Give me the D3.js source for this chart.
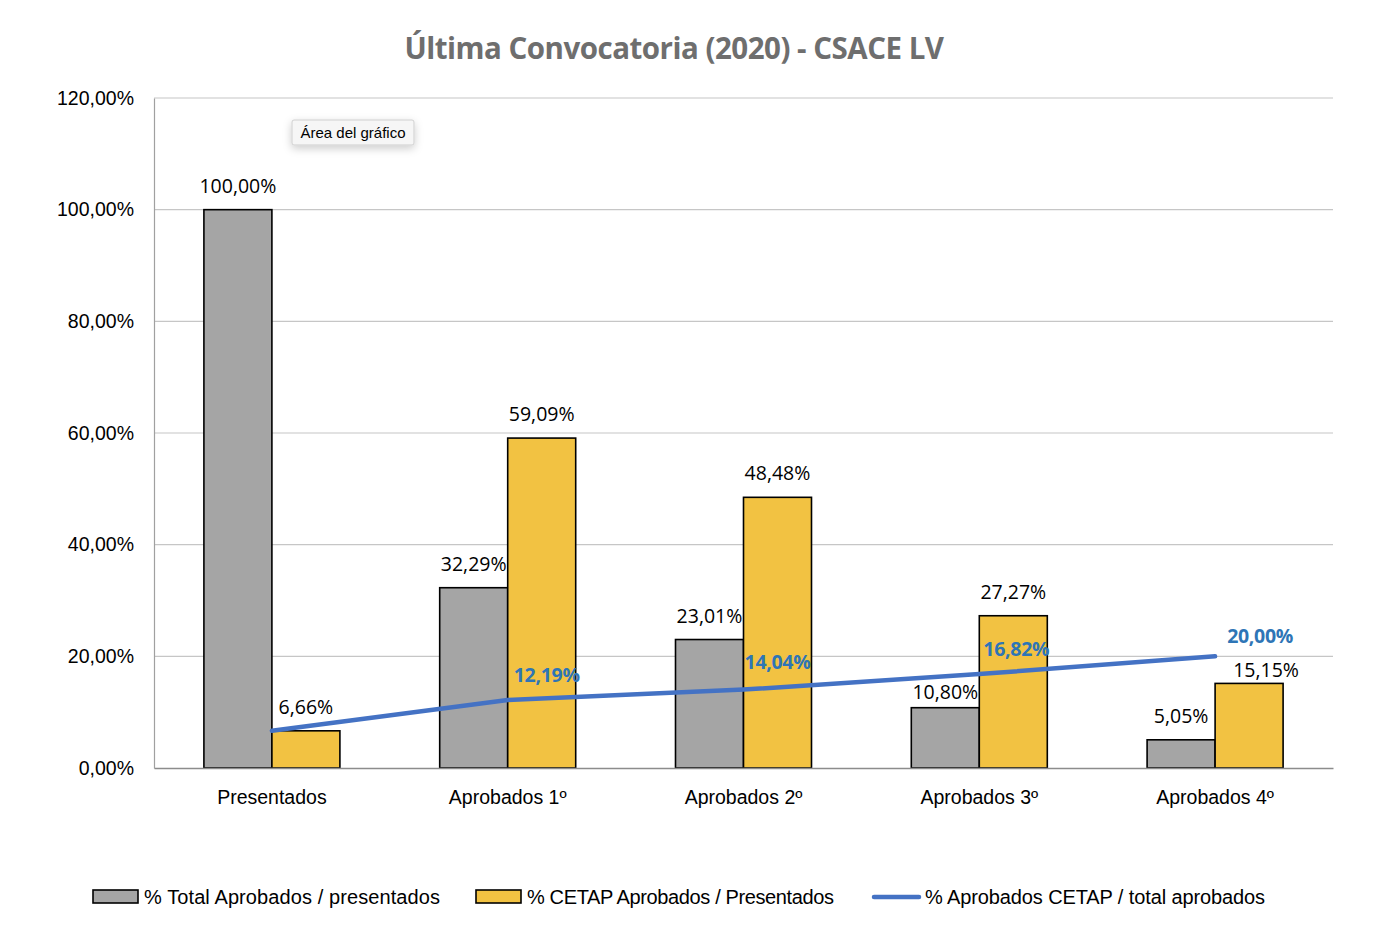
<!DOCTYPE html>
<html><head><meta charset="utf-8">
<script src="https://cdn.jsdelivr.net/npm/d3@7"></script>
<style>
body{margin:0;background:#fff;}
svg{display:block;font-family:"Open Sans","Liberation Sans",sans-serif;}
</style></head>
<body><svg id="c" width="1400" height="938"></svg>
<script>
const categories = ["Presentados","Aprobados 1º","Aprobados 2º","Aprobados 3º","Aprobados 4º"];
const totalAprobados = [100.00, 32.29, 23.01, 10.80, 5.05];
const cetapAprobados = [6.66, 59.09, 48.48, 27.27, 15.15];
const cetapShare = [6.66, 12.19, 14.04, 16.82, 20.00];
const yTicks = [0, 20, 40, 60, 80, 100, 120];
const seriesNames = ["% Total Aprobados / presentados","% CETAP Aprobados / Presentados","% Aprobados CETAP / total aprobados"];
const title = "Última Convocatoria (2020) - CSACE LV";

(function(){
const svg = d3.select("#c");
const pLeft = 154, pRight = 1333, pTop = 98, pBottom = 768;
const fmt = v => v.toFixed(2).replace(".", ",") + "%";

const x = d3.scaleBand().domain(categories).range([pLeft, pRight]);
const y = d3.scaleLinear().domain([0, 120]).range([pBottom, pTop]);
const barW = 68;

svg.append("g").selectAll("line").data(yTicks.filter(t => t > 0)).join("line")
  .attr("x1", pLeft).attr("x2", pRight)
  .attr("y1", d => y(d)).attr("y2", d => y(d))
  .attr("stroke", "#c6c6c6").attr("stroke-width", 1.2);

const yAxis = svg.append("g").attr("transform", `translate(${pLeft},0)`)
  .call(d3.axisLeft(y).tickValues(yTicks).tickFormat(fmt).tickSize(0).tickPadding(20));
yAxis.select(".domain").attr("stroke", "#a0a0a0").attr("stroke-width", 1.2);
yAxis.selectAll("text").attr("font-size", 19.5).attr("fill", "#000");

svg.append("text").attr("x", 674).attr("y", 59).attr("text-anchor", "middle")
  .attr("font-size", 29.5).attr("font-weight", "bold").attr("fill", "#6e6e6e")
  .attr("letter-spacing", -0.5)
  .text(title);

const cx = c => x(c) + x.bandwidth() / 2;
svg.append("g").selectAll("rect").data(categories).join("rect")
  .attr("x", c => cx(c) - barW).attr("width", barW)
  .attr("y", (c, i) => y(totalAprobados[i]))
  .attr("height", (c, i) => pBottom - y(totalAprobados[i]))
  .attr("fill", "#a5a5a5").attr("stroke", "#000").attr("stroke-width", 1.6);
svg.append("g").selectAll("rect").data(categories).join("rect")
  .attr("x", c => cx(c)).attr("width", barW)
  .attr("y", (c, i) => y(cetapAprobados[i]))
  .attr("height", (c, i) => pBottom - y(cetapAprobados[i]))
  .attr("fill", "#f2c242").attr("stroke", "#000").attr("stroke-width", 1.6);

const xAxis = svg.append("g").attr("transform", `translate(0,${pBottom})`)
  .call(d3.axisBottom(x).tickSize(0).tickPadding(22));
xAxis.select(".domain").attr("stroke", "#8c8c8c").attr("stroke-width", 1.5);
xAxis.selectAll("text").attr("font-size", 19.5).attr("fill", "#000");

// label nudges (data-label placements from the source chart)
const grayDy = [0, 0, 0, 8, 0];
const yellowDy = [0, 0, 0, 0, 11];
const yellowDx = [0, 0, 0, 0, 17];
svg.append("g").selectAll("text").data(categories).join("text")
  .attr("x", c => cx(c) - barW / 2).attr("y", (c, i) => y(totalAprobados[i]) - 17 + grayDy[i])
  .attr("text-anchor", "middle").attr("font-size", 19.5).attr("fill", "#000")
  .text((c, i) => fmt(totalAprobados[i]));
svg.append("g").selectAll("text").data(categories).join("text")
  .attr("x", (c, i) => cx(c) + barW / 2 + yellowDx[i]).attr("y", (c, i) => y(cetapAprobados[i]) - 17 + yellowDy[i])
  .attr("text-anchor", "middle").attr("font-size", 19.5).attr("fill", "#000")
  .text((c, i) => fmt(cetapAprobados[i]));

const line = d3.line().x((d, i) => cx(categories[i])).y(d => y(d));
svg.append("path").datum(cetapShare).attr("d", line)
  .attr("fill", "none").attr("stroke", "#4472c4").attr("stroke-width", 4.5)
  .attr("stroke-linecap", "round");
const lineDx = [39, 34, 37, 45];
const lineDy = [-18, -21, -18, -13];
svg.append("g").selectAll("text").data(cetapShare.slice(1)).join("text")
  .attr("x", (d, i) => cx(categories[i + 1]) + lineDx[i]).attr("y", (d, i) => y(d) + lineDy[i])
  .attr("text-anchor", "middle").attr("font-size", 19.5).attr("font-weight", "bold")
  .attr("fill", "#2e75b6").attr("letter-spacing", -0.3)
  .text(d => fmt(d));

const defs = svg.append("defs");
const f = defs.append("filter").attr("id", "sh").attr("x", "-30%").attr("y", "-60%").attr("width", "160%").attr("height", "260%");
f.append("feDropShadow").attr("dx", 0).attr("dy", 3).attr("stdDeviation", 4).attr("flood-color", "#000").attr("flood-opacity", 0.2);
const tip = svg.append("g").attr("transform", "translate(292,120)");
tip.append("rect").attr("width", 122).attr("height", 25).attr("fill", "#f6f6f6")
  .attr("stroke", "#cfcfcf").attr("rx", 2).attr("filter", "url(#sh)");
tip.append("text").attr("x", 61).attr("y", 18).attr("text-anchor", "middle")
  .attr("font-size", 15).attr("fill", "#000").attr("font-family", "'Liberation Sans',sans-serif").text("Área del gráfico");

const lg = svg.append("g").attr("font-size", 20).attr("fill", "#000").attr("font-family", "'Liberation Sans',sans-serif");
const legendWidths = [296, 307, 340];
lg.append("rect").attr("x", 93).attr("y", 890).attr("width", 45).attr("height", 13)
  .attr("fill", "#a5a5a5").attr("stroke", "#000").attr("stroke-width", 1.6);
lg.append("text").attr("x", 144).attr("y", 904).attr("textLength", legendWidths[0]).text(seriesNames[0]);
lg.append("rect").attr("x", 476).attr("y", 890).attr("width", 45).attr("height", 13)
  .attr("fill", "#f2c242").attr("stroke", "#000").attr("stroke-width", 1.6);
lg.append("text").attr("x", 527).attr("y", 904).attr("textLength", legendWidths[1]).text(seriesNames[1]);
lg.append("line").attr("x1", 874).attr("x2", 919).attr("y1", 897).attr("y2", 897)
  .attr("stroke", "#4472c4").attr("stroke-width", 4.5).attr("stroke-linecap", "round");
lg.append("text").attr("x", 925).attr("y", 904).attr("textLength", legendWidths[2]).text(seriesNames[2]);
})();
</script></body></html>
